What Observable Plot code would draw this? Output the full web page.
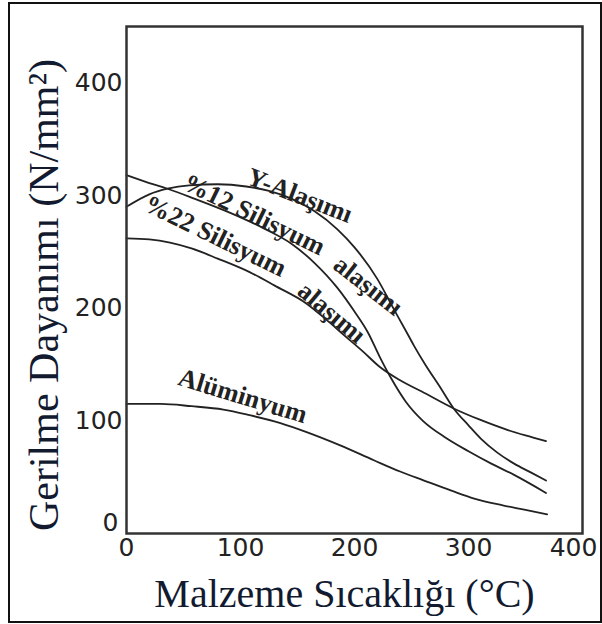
<!DOCTYPE html>
<html>
<head>
<meta charset="utf-8">
<script src="https://cdn.jsdelivr.net/npm/d3@7"></script>
<script src="https://cdn.jsdelivr.net/npm/@observablehq/plot@0.6"></script>
<style>
  html, body { margin: 0; padding: 0; background: #fff; }
  #wrap { position: relative; width: 602px; height: 624px; overflow: hidden; }
  #border { position: absolute; left: 8px; top: 2px; width: 594px; height: 621px; box-sizing: border-box; border: 2px solid #111; pointer-events: none; }
  #chart { position: absolute; left: 0; top: 0; }
</style>
</head>
<body>
<div id="wrap"><div id="chart"></div><div id="border"></div></div>
<script>
// ---- data ----
const yAlasimT = [0, 20, 36, 55, 80, 105, 125, 145, 165, 185, 200, 220, 234, 245, 252, 262, 275, 287, 300, 311, 325, 340, 355, 368];
const yAlasimV = [290, 301, 306, 309, 310, 308, 304, 297, 286, 270, 254, 226, 200, 180, 167, 150, 130, 111, 96, 84, 72, 62, 54, 47];

const si12T = [0, 20, 36, 60, 90, 120, 145, 165, 185, 200, 212, 222, 232, 245, 260, 280, 300, 320, 340, 368];
const si12V = [318, 311, 306, 297, 285, 271, 257, 240, 218, 197, 178, 157, 138, 117, 100, 85, 73, 62, 52, 36];

const si22T = [0, 20, 57, 80, 108, 130, 158, 175, 192, 208, 222, 240, 259, 287, 310, 334, 350, 368];
const si22V = [262, 261, 253, 244, 232, 220, 204, 190, 175, 161, 148, 136, 126, 111, 101, 92, 87, 82];

const aluT = [0, 30, 57, 85, 108, 135, 158, 188, 217, 240, 261, 285, 305, 330, 350, 369];
const aluV = [115, 115, 113, 110, 105, 98, 90, 78, 65, 55, 47, 38, 31, 25, 21, 17];

const labelText = ["Y-Alaşımı", "%12 Silisyum", "alaşımı", "%22 Silisyum", "alaşımı", "Alüminyum"];
const labelT    = [152, 112, 212, 78, 180, 102];
const labelV    = [300, 283, 220, 264, 196, 122];
const labelRot  = [21, 26, 38, 26, 40, 17];

const xTicks = [0, 100, 200, 300];
const xTickLast = [400];
const yTicks = [100, 200, 300, 400];
const yTickZero = [0];

const xTitle = "Malzeme Sıcaklığı (°C)";
const yTitle = "Gerilme Dayanımı (N/mm²)";

// ---- build ----
const series = [
  {name: "Y-Alaşımı", t: yAlasimT, v: yAlasimV},
  {name: "%12 Silisyum alaşımı", t: si12T, v: si12V},
  {name: "%22 Silisyum alaşımı", t: si22T, v: si22V},
  {name: "Alüminyum", t: aluT, v: aluV}
];
const rows = series.flatMap(s => s.t.map((t, i) => ({series: s.name, t, v: s.v[i]})));
const labels = labelText.map((t, i) => ({text: t, t: labelT[i], v: labelV[i], r: labelRot[i]}));

const ink = "#222";
const tickFont = "DejaVu Sans, sans-serif";
const serif = "Liberation Serif, Times New Roman, serif";

const chart = Plot.plot({
  width: 602,
  height: 624,
  marginLeft: 126,
  marginRight: 20,
  marginTop: 26,
  marginBottom: 91,
  x: {domain: [0, 400], axis: null},
  y: {domain: [0, 450], axis: null},
  style: {background: "transparent", overflow: "visible"},
  marks: [
    Plot.line(rows, {x: "t", y: "v", z: "series", curve: "monotone-x", stroke: ink, strokeWidth: 1.8}),
    Plot.text(labels, {x: "t", y: "v", text: "text", rotate: "r", fontSize: 26, fontWeight: "bold", fontFamily: serif, fill: ink, textAnchor: "middle", lineAnchor: "middle"}),
    Plot.frame({stroke: "#333", strokeWidth: 2.5}),
    Plot.axisX(xTicks, {tickSize: 0, tickPadding: 5, fontSize: 25, fontFamily: tickFont, fill: ink, label: null}),
    Plot.axisX(xTickLast, {tickSize: 0, tickPadding: 5, fontSize: 25, fontFamily: tickFont, fill: ink, label: null, dx: -9}),
    Plot.axisY(yTicks, {tickSize: 0, tickPadding: 4, fontSize: 25, fontFamily: tickFont, fill: ink, label: null}),
    Plot.axisY(yTickZero, {tickSize: 0, tickPadding: 8, fontSize: 25, fontFamily: tickFont, fill: ink, label: null, dy: -11}),
    Plot.text([xTitle], {frameAnchor: "bottom", dx: -10, dy: 61, fontSize: 40, fontFamily: serif, fill: "#121a30", lineAnchor: "middle"}),
    Plot.text([yTitle], {frameAnchor: "left", rotate: -90, dx: -82, dy: 15, fontSize: 42, fontFamily: serif, fill: "#121a30", textAnchor: "middle", lineAnchor: "middle"})
  ]
});
document.getElementById("chart").appendChild(chart);
</script>
</body>
</html>
